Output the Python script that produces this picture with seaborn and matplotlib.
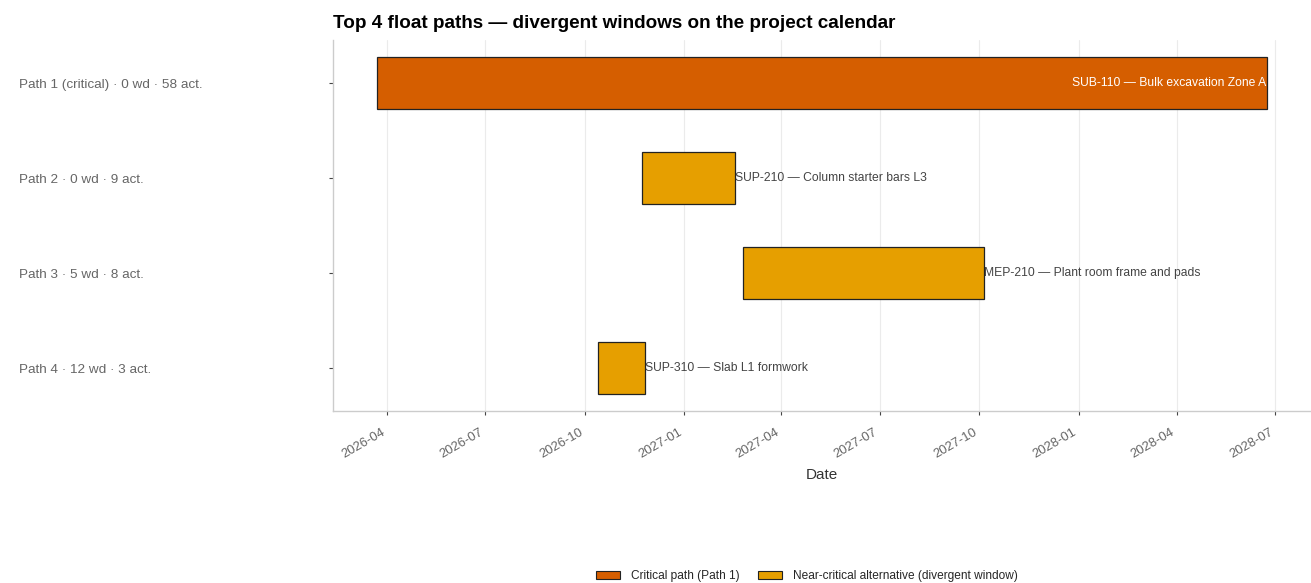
import matplotlib
matplotlib.use("Agg")
import matplotlib.pyplot as plt
import matplotlib.dates as mdates
from matplotlib.patches import Patch
import seaborn as sns
import pandas as pd

# ---- data ----
paths = ["Path 1 (critical) · 0 wd · 58 act.",
         "Path 2 · 0 wd · 9 act.",
         "Path 3 · 5 wd · 8 act.",
         "Path 4 · 12 wd · 3 act."]
starts = ["2026-03-23", "2026-11-23", "2027-02-24", "2026-10-13"]
ends = ["2028-06-23", "2027-02-17", "2027-10-05", "2026-11-26"]
activities = ["SUB-110 — Bulk excavation Zone A",
              "SUP-210 — Column starter bars L3",
              "MEP-210 — Plant room frame and pads",
              "SUP-310 — Slab L1 formwork"]
kinds = ["critical", "near", "near", "near"]
legend_labels = ["Critical path (Path 1)", "Near-critical alternative (divergent window)"]

palette = {"critical": "#D55E00", "near": "#E69F00"}

df = pd.DataFrame({"path": paths, "start": pd.to_datetime(starts),
                   "end": pd.to_datetime(ends), "act": activities, "kind": kinds})

sns.set_theme(style="whitegrid")
plt.rcParams["font.family"] = ["Liberation Sans", "DejaVu Sans"]

fig = plt.figure(figsize=(13.11, 5.83), dpi=100)
ax = fig.add_axes([0.254, 0.295, 0.746, 0.636])

ypos = list(range(len(df)))
s = mdates.date2num(df["start"])
e = mdates.date2num(df["end"])
ax.barh(ypos, e - s, left=s, height=0.55,
        color=[palette[k] for k in df["kind"]],
        edgecolor="#222222", linewidth=0.9, zorder=3)
ax.use_sticky_edges = False
ax.margins(x=0.05, y=0.05)

for i, row in df.iterrows():
    xe = mdates.date2num(row["end"])
    if row["kind"] == "critical":
        ax.text(xe, i, row["act"], ha="right", va="center",
                color="white", fontsize=8.7, zorder=4)
    else:
        ax.text(xe, i, row["act"], ha="left", va="center",
                color="#444444", fontsize=8.7, zorder=4)

ax.set_yticks(ypos)
ax.set_yticklabels(df["path"], fontsize=9.7, color="#666666")
for lab in ax.get_yticklabels():
    lab.set_horizontalalignment("left")
ax.tick_params(axis="y", length=3, width=0.8, color="#444444", pad=223, left=True)
ax.invert_yaxis()
ax.grid(axis="y", visible=False)
ax.grid(axis="x", color="#ebebeb", linewidth=0.8)

ax.xaxis.set_major_locator(mdates.MonthLocator(bymonth=[1, 4, 7, 10]))
ax.xaxis.set_major_formatter(mdates.DateFormatter("%Y-%m"))
ax.tick_params(axis="x", length=3, width=0.8, color="#444444", labelsize=9.4,
               labelcolor="#666666", bottom=True, pad=8)
for lab in ax.get_xticklabels():
    lab.set_rotation(30)
    lab.set_horizontalalignment("right")

ax.set_xlabel("Date", fontsize=11, color="#333333", labelpad=5)
ax.set_ylabel("")

for side in ["top", "right"]:
    ax.spines[side].set_visible(False)
for side in ["left", "bottom"]:
    ax.spines[side].set_visible(True)
    ax.spines[side].set_color("#cccccc")
    ax.spines[side].set_linewidth(1.0)

ax.set_title("Top 4 float paths — divergent windows on the project calendar",
             loc="left", fontsize=13.6, fontweight="bold", pad=9, color="black")

handles = [Patch(facecolor=palette["critical"], edgecolor="#222222", linewidth=0.8),
           Patch(facecolor=palette["near"], edgecolor="#222222", linewidth=0.8)]
fig.legend(handles, legend_labels, loc="center", bbox_to_anchor=(807 / 1311, 1 - 576 / 583),
           ncol=2, frameon=False, fontsize=8.6, handlelength=2.0, handleheight=0.67,
           columnspacing=1.6, handletextpad=0.9)

fig.savefig("out.png", dpi=100)
